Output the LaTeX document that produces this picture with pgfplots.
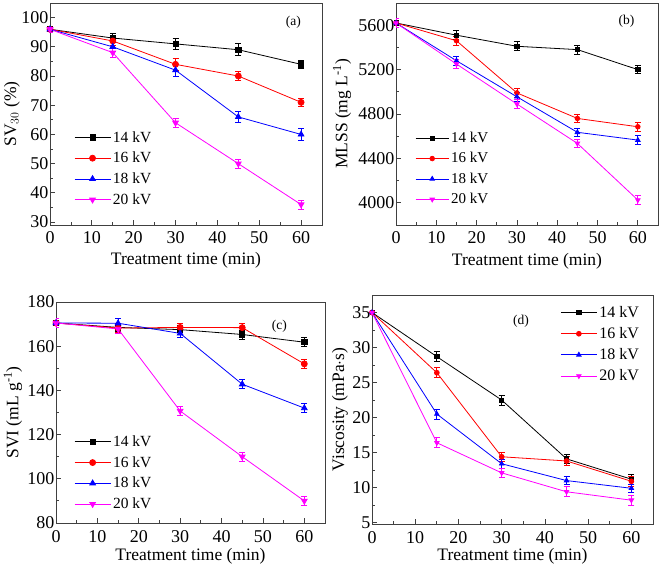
\documentclass[border=0pt]{standalone}
\usepackage{fontspec}
\setmainfont{Liberation Serif}
\usepackage{pgfplots}
\pgfplotsset{compat=1.18}
\usepackage{pgfplotstable}

\pgfplotstableread{
x y e
0 96 1
15 93 1.5
30 91 2
45 89 2
60 84 1.5
}\aA
\pgfplotstableread{
x y e
0 96 1
15 92 1.5
30 84 2
45 80 1.5
60 71 1.5
}\aB
\pgfplotstableread{
x y e
0 96 1
15 90 1.5
30 82 2
45 66 2
60 60 2
}\aC
\pgfplotstableread{
x y e
0 96 1
15 88 1.5
30 64 1.5
45 50 1.5
60 36 1.5
}\aD

\pgfplotstableread{
x y e
0 5620 40
15 5510 40
30 5410 40
45 5380 40
60 5200 35
}\bA
\pgfplotstableread{
x y e
0 5620 40
15 5460 40
30 4990 40
45 4760 40
60 4685 40
}\bB
\pgfplotstableread{
x y e
0 5620 40
15 5280 40
30 4955 40
45 4635 35
60 4565 40
}\bC
\pgfplotstableread{
x y e
0 5620 40
15 5250 40
30 4890 40
45 4535 40
60 4025 40
}\bD

\pgfplotstableread{
x y e
0 170.5 2
15 168.5 2
30 167.5 2
45 165.3 2
60 161.8 2
}\cA
\pgfplotstableread{
x y e
0 170.5 2
15 168.2 2
30 168.5 2
45 168.4 2
60 152 2
}\cB
\pgfplotstableread{
x y e
0 170.5 2
15 170.4 2
30 165.8 2
45 142.8 2
60 132 2
}\cC
\pgfplotstableread{
x y e
0 170.5 2
15 167.8 2
30 130.7 2
45 110 2
60 90 2
}\cD

\pgfplotstableread{
x y e
0 35 0.3
15 28.7 0.7
30 22.5 0.7
45 14.1 0.7
60 11.2 0.7
}\dA
\pgfplotstableread{
x y e
0 35 0.3
15 26.4 0.7
30 14.4 0.6
45 13.8 0.7
60 10.9 0.7
}\dB
\pgfplotstableread{
x y e
0 35 0.3
15 20.5 0.7
30 13.4 0.6
45 11.0 0.6
60 9.9 0.6
}\dC
\pgfplotstableread{
x y e
0 35 0.3
15 16.4 0.7
30 12.1 0.7
45 9.4 0.7
60 8.2 0.7
}\dD

\definecolor{mag}{rgb}{1,0,1}

\pgfplotsset{
  panel/.style={
    scale only axis,
    xmin=0, xmax=65,
    xtick={0,10,...,60},
    minor x tick num=1,
    minor y tick num=1,
    tick align=inside,
    xtick pos=left, ytick pos=left,
    major tick length=5pt, minor tick length=3pt,
    every tick/.style={black!75, line width=0.8pt},
    axis line style={black!75, line width=0.9pt},
    /pgf/number format/assume math mode=true,
    /pgf/number format/set thousands separator={},
    ticklabel style={font=\fontsize{18}{18}\selectfont},
    xticklabel style={yshift=-3.5pt},
    yticklabel style={xshift=2pt},
    label style={font=\fontsize{17.5}{18}\selectfont},
    xlabel={Treatment time (min)},
    legend cell align=left,
    legend style={draw=none, fill=none, font=\fontsize{15.5}{16}\selectfont,
      inner sep=0pt, row sep=4.5pt},
    legend image code/.code={\draw[mark repeat=2, mark phase=2, ##1] plot coordinates {(0pt,0pt) (18pt,0pt) (36pt,0pt)};},
    every axis plot/.append style={line width=0.8pt},
    error bars/error bar style={line width=0.8pt},
    error bars/error mark options={rotate=90, mark size=3pt, line width=0.8pt},
  },
  s14/.style={black, mark=square*, mark size=2.6pt},
  s16/.style={red, mark=*, mark size=3pt},
  s18/.style={blue, mark=triangle*, mark size=3.3pt},
  s20/.style={mag, mark=triangle*, mark size=3.3pt, mark options={rotate=180}},
  eb/.style={error bars/.cd, y dir=both, y explicit},
}

\begin{document}
\begin{tikzpicture}
\useasboundingbox (0pt,0pt) rectangle (661pt,564pt);

% (a)
\begin{axis}[panel, at={(50pt,339pt)}, anchor=south west, width=272pt, height=222pt,
  ymin=29, ymax=105, ytick={30,40,...,100},
  ylabel={SV$_{30}$ (\%)},
  xlabel style={at={(axis description cs:0.5,0)}, anchor=center, yshift=-35pt},
  ylabel style={at={(axis description cs:-0.14,0.5)}, anchor=center},
  legend style={at={(axis description cs:0.088,0.432)}, anchor=north west}]
\addplot[s14, eb] table[x=x,y=y,y error=e] {\aA};
\addplot[s16, eb] table[x=x,y=y,y error=e] {\aB};
\addplot[s18, eb] table[x=x,y=y,y error=e] {\aC};
\addplot[s20, eb] table[x=x,y=y,y error=e] {\aD};
\legend{14 kV,16 kV,18 kV,20 kV}
\node[font=\fontsize{13.5}{14}\selectfont] at (axis description cs:0.895,0.915) {(a)};
\end{axis}

% (b)
\begin{axis}[panel, at={(396pt,339pt)}, anchor=south west, width=262pt, height=222pt,
  ymin=3800, ymax=5800, ytick={4000,4400,...,5600},
  ylabel={MLSS (mg L\textsuperscript{-1})},
  xlabel style={at={(axis description cs:0.5,0)}, anchor=center, yshift=-36pt},
  ylabel style={at={(axis description cs:-0.206,0.5)}, anchor=center},
  legend style={at={(axis description cs:0.073,0.428)}, anchor=north west, font=\fontsize{15}{15.5}\selectfont},
  legend image code/.code={\draw[mark repeat=2, mark phase=2, #1] plot coordinates {(0pt,0pt) (16.5pt,0pt) (33pt,0pt)};},
  s14/.append style={mark size=2.1pt}, s16/.append style={mark size=2.3pt},
  s18/.append style={mark size=2.6pt}, s20/.append style={mark size=2.6pt}]
\addplot[s14, eb] table[x=x,y=y,y error=e] {\bA};
\addplot[s16, eb] table[x=x,y=y,y error=e] {\bB};
\addplot[s18, eb] table[x=x,y=y,y error=e] {\bC};
\addplot[s20, eb] table[x=x,y=y,y error=e] {\bD};
\legend{14 kV,16 kV,18 kV,20 kV}
\node[font=\fontsize{13.5}{14}\selectfont] at (axis description cs:0.88,0.92) {(b)};
\end{axis}

% (c)
\begin{axis}[panel, at={(56pt,41pt)}, anchor=south west, width=269pt, height=221pt,
  ymin=80, ymax=180, ytick={80,100,...,180},
  ylabel={SVI (mL g\textsuperscript{-1})},
  xlabel style={at={(axis description cs:0.5,0)}, anchor=center, yshift=-33pt},
  ylabel style={at={(axis description cs:-0.16,0.5)}, anchor=center},
  legend style={at={(axis description cs:0.067,0.405)}, anchor=north west}]
\addplot[s14, eb] table[x=x,y=y,y error=e] {\cA};
\addplot[s16, eb] table[x=x,y=y,y error=e] {\cB};
\addplot[s18, eb] table[x=x,y=y,y error=e] {\cC};
\addplot[s20, eb] table[x=x,y=y,y error=e] {\cD};
\legend{14 kV,16 kV,18 kV,20 kV}
\node[font=\fontsize{13.5}{14}\selectfont] at (axis description cs:0.83,0.89) {(c)};
\end{axis}

% (d)
\begin{axis}[panel, at={(372pt,40pt)}, anchor=south west, width=281pt, height=229pt,
  ymin=4.8, ymax=37.5, ytick={5,10,...,35},
  ylabel={Viscosity (mPa$\cdot$s)},
  xlabel style={at={(axis description cs:0.5,0)}, anchor=center, yshift=-32pt},
  ylabel style={at={(axis description cs:-0.114,0.5)}, anchor=center},
  legend style={at={(axis description cs:0.67,0.96)}, anchor=north west, font=\fontsize{16}{16.5}\selectfont},
  s14/.append style={mark size=2.1pt}, s16/.append style={mark size=2.4pt},
  s18/.append style={mark size=2.6pt}, s20/.append style={mark size=2.6pt}]
\addplot[s14, eb] table[x=x,y=y,y error=e] {\dA};
\addplot[s16, eb] table[x=x,y=y,y error=e] {\dB};
\addplot[s18, eb] table[x=x,y=y,y error=e] {\dC};
\addplot[s20, eb] table[x=x,y=y,y error=e] {\dD};
\legend{14 kV,16 kV,18 kV,20 kV}
\node[font=\fontsize{13.5}{14}\selectfont] at (axis description cs:0.53,0.885) {(d)};
\end{axis}
\end{tikzpicture}
\end{document}
